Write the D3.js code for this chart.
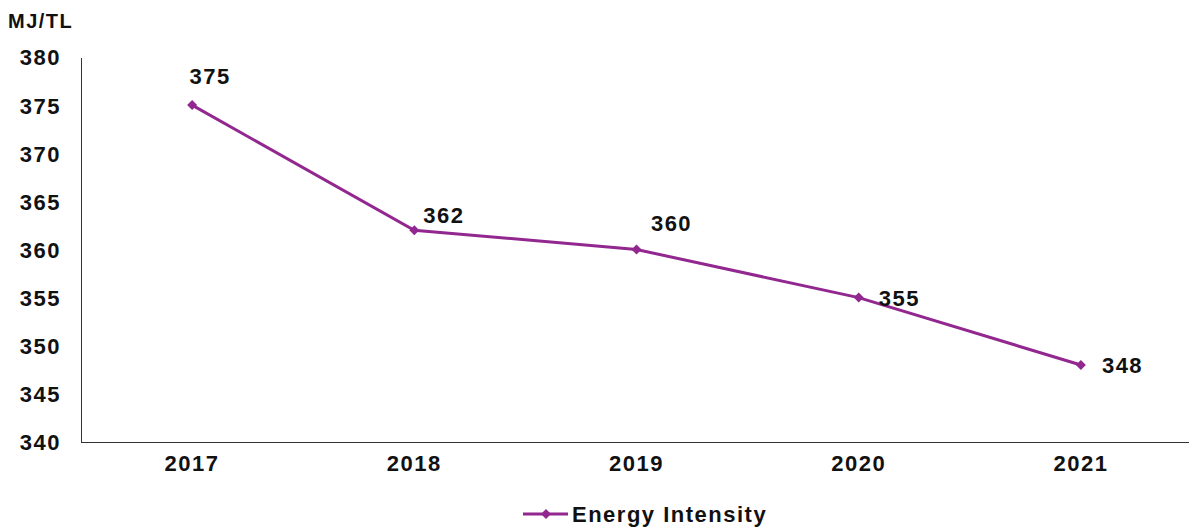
<html>
  <head>
    <meta charset="utf-8">
    <title>Energy Intensity</title>
  </head>
  <style>
    body { margin: 0; background: #ffffff; }
    text {
      font-family: "Liberation Sans", Arial, sans-serif;
      font-weight: bold;
      font-size: 22px;
      letter-spacing: 1.5px;
      fill: #111111;
    }
    .line { fill: none; stroke: #92278f; stroke-width: 3px; }
    .marker { fill: #92278f; }
  </style>
  <body>
    <div id="chart"></div>
    <script src="https://cdn.jsdelivr.net/npm/d3@7"></script>
    <script>
      // data
      var years      = ["2017", "2018", "2019", "2020", "2021"];
      var intensity  = [375, 362, 360, 355, 348];
      var yTicks     = [340, 345, 350, 355, 360, 365, 370, 375, 380];
      var seriesName = "Energy Intensity";
      var unitLabel  = "MJ/TL";

      // where each value label sits relative to its point (dx, dy, anchor)
      var labelPlace = [
        [18, -29, "middle"],
        [9, -15, "start"],
        [35, -26, "middle"],
        [20, 0, "start"],
        [21, 0, "start"]
      ];

      var outerWidth  = 1189,
          outerHeight = 528,
          plotLeft    = 81,
          plotTop     = 57,
          plotBottom  = 442;

      var svg = d3.select("#chart")
                  .append("svg")
                  .attr("width", outerWidth)
                  .attr("height", outerHeight);

      var x = d3.scaleBand()
                .domain(years)
                .range([plotLeft, 1192]);

      var y = d3.scaleLinear()
                .domain([340, 380])
                .range([plotBottom, plotTop]);

      // y axis
      var gY = svg.append("g")
                  .attr("transform", "translate(" + plotLeft + ",0)")
                  .call(d3.axisLeft(y).tickValues(yTicks).tickSize(0).tickPadding(20));
      gY.attr("font-family", null).attr("font-size", null);
      gY.selectAll("text").attr("dy", "0.36em").attr("fill", null);
      gY.select(".domain").attr("stroke", "#333333").style("shape-rendering", "crispEdges");

      // x axis
      svg.append("line")
         .attr("x1", plotLeft).attr("x2", outerWidth)
         .attr("y1", plotBottom).attr("y2", plotBottom)
         .attr("stroke", "#333333")
         .style("shape-rendering", "crispEdges");

      svg.selectAll(".xlabel")
         .data(years)
         .enter().append("text")
         .attr("class", "xlabel")
         .attr("x", function(d) { return x(d) + x.bandwidth() / 2; })
         .attr("y", 471)
         .attr("text-anchor", "middle")
         .text(function(d) { return d; });

      // unit label
      svg.append("text")
         .attr("x", 8)
         .attr("y", 28)
         .style("font-size", "20px")
         .text(unitLabel);

      var pts = years.map(function(d, i) {
        return { x: d, y: intensity[i], place: labelPlace[i] };
      });

      var line = d3.line()
                   .x(function(d) { return x(d.x) + x.bandwidth() / 2; })
                   .y(function(d) { return y(d.y); });

      svg.append("path")
         .datum(pts)
         .attr("class", "line")
         .attr("d", line);

      var diamond = d3.symbol().type(d3.symbolSquare).size(50);

      svg.selectAll(".marker")
         .data(pts)
         .enter().append("path")
         .attr("class", "marker")
         .attr("d", diamond)
         .attr("transform", function(d) {
           return "translate(" + (x(d.x) + x.bandwidth() / 2) + "," + y(d.y) + ") rotate(45)";
         });

      svg.selectAll(".dlabel")
         .data(pts)
         .enter().append("text")
         .attr("class", "dlabel")
         .attr("x", function(d) { return x(d.x) + x.bandwidth() / 2 + d.place[0]; })
         .attr("y", function(d) { return y(d.y) + d.place[1]; })
         .attr("text-anchor", function(d) { return d.place[2]; })
         .attr("dy", "0.36em")
         .text(function(d) { return d.y; });

      // legend
      var lg = svg.append("g").attr("transform", "translate(523,514)");
      lg.append("line")
        .attr("x1", 0).attr("x2", 45)
        .attr("stroke", "#92278f").attr("stroke-width", 3);
      lg.append("path")
        .attr("class", "marker")
        .attr("d", diamond)
        .attr("transform", "translate(23,0) rotate(45)");
      lg.append("text")
        .attr("x", 49)
        .attr("dy", "0.36em")
        .text(seriesName);
    </script>
  </body>
</html>
